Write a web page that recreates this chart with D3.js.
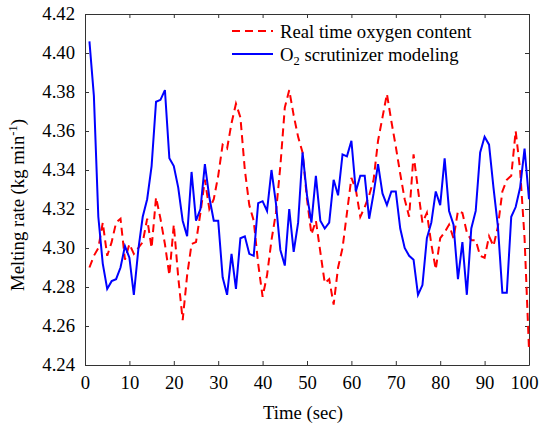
<!DOCTYPE html>
<html>
<head>
  <script src="https://d3js.org/d3.v7.min.js"></script>
  <style>
    body { margin: 0; background: #fff; }
    text { font-family: "Liberation Serif", "Times New Roman", serif; fill: #000; }
  </style>
</head>
<body>
<script>
  // time axis, one sample per second
  var time = d3.range(1, 101);

  // Real time oxygen content (dashed red)
  var realOxygen = [
    4.290, 4.296, 4.300, 4.313, 4.296, 4.303, 4.313, 4.315, 4.294, 4.302,
    4.297, 4.300, 4.303, 4.315, 4.300, 4.326, 4.315, 4.302, 4.286, 4.312,
    4.285, 4.263, 4.286, 4.302, 4.303, 4.318, 4.335, 4.320, 4.325, 4.337,
    4.353, 4.351, 4.364, 4.374, 4.367, 4.340, 4.322, 4.314, 4.292, 4.275,
    4.286, 4.304, 4.318, 4.342, 4.372, 4.381, 4.368, 4.357, 4.349, 4.325,
    4.307, 4.314, 4.298, 4.282, 4.284, 4.271, 4.290, 4.300, 4.318, 4.336,
    4.330, 4.316, 4.321, 4.327, 4.335, 4.355, 4.367, 4.379, 4.365, 4.352,
    4.338, 4.325, 4.316, 4.348, 4.330, 4.313, 4.318, 4.302, 4.289, 4.305,
    4.308, 4.312, 4.305, 4.319, 4.318, 4.308, 4.304, 4.304, 4.296, 4.295,
    4.306, 4.301, 4.311, 4.329, 4.335, 4.337, 4.360, 4.340, 4.305, 4.248
  ];

  // O2 scrutinizer modeling (solid blue)
  var scrutinizer = [
    4.406, 4.378, 4.316, 4.292, 4.279, 4.283, 4.284, 4.290, 4.301, 4.295,
    4.276, 4.299, 4.316, 4.325, 4.342, 4.375, 4.376, 4.381, 4.346, 4.342,
    4.331, 4.314, 4.306, 4.339, 4.314, 4.320, 4.343, 4.326, 4.314, 4.314,
    4.285, 4.276, 4.297, 4.279, 4.305, 4.306, 4.297, 4.296, 4.323, 4.324,
    4.319, 4.340, 4.323, 4.299, 4.291, 4.320, 4.298, 4.313, 4.349, 4.327,
    4.313, 4.337, 4.314, 4.310, 4.313, 4.335, 4.327, 4.348, 4.347, 4.355,
    4.329, 4.337, 4.337, 4.315, 4.328, 4.343, 4.328, 4.322, 4.329, 4.329,
    4.310, 4.300, 4.296, 4.294, 4.276, 4.281, 4.305, 4.313, 4.329, 4.322,
    4.346, 4.319, 4.312, 4.284, 4.303, 4.276, 4.310, 4.319, 4.349, 4.357,
    4.353, 4.331, 4.311, 4.277, 4.277, 4.316, 4.321, 4.331, 4.351, 4.325
  ];

  var xTicks = d3.range(0, 101, 10);
  var yTicks = [4.24, 4.26, 4.28, 4.30, 4.32, 4.34, 4.36, 4.38, 4.40, 4.42];

  var width = 540, height = 425;
  var plotL = 85, plotR = 529, plotT = 14, plotB = 365;

  var svg = d3.select("body").append("svg")
      .attr("width", width)
      .attr("height", height);

  var x = d3.scaleLinear().domain([0, 100]).range([plotL, plotR]);
  var y = d3.scaleLinear().domain([4.24, 4.42]).range([plotB, plotT]);

  // axes: ticks point inward on all four sides
  var fs = "18.7px";
  var axisColor = "#333";

  var gx = svg.append("g")
      .attr("transform", "translate(0," + plotB + ")")
      .call(d3.axisBottom(x).tickValues(xTicks).tickSizeInner(-4).tickSizeOuter(0).tickPadding(11));
  var gy = svg.append("g")
      .attr("transform", "translate(" + plotL + ",0)")
      .call(d3.axisLeft(y).tickValues(yTicks).tickFormat(d3.format(".2f")).tickSizeInner(-4).tickSizeOuter(0).tickPadding(10));
  var gt = svg.append("g")
      .attr("transform", "translate(0," + plotT + ")")
      .call(d3.axisTop(x).tickValues(xTicks).tickSizeInner(-4).tickSizeOuter(0).tickFormat(""));
  var gr = svg.append("g")
      .attr("transform", "translate(" + plotR + ",0)")
      .call(d3.axisRight(y).tickValues(yTicks).tickSizeInner(-4).tickSizeOuter(0).tickFormat(""));

  [gx, gy, gt, gr].forEach(function (g) {
    g.selectAll("path").attr("stroke", axisColor);
    g.selectAll("line").attr("stroke", axisColor);
    g.selectAll("text")
      .style("font-family", '"Liberation Serif", "Times New Roman", serif')
      .style("font-size", fs)
      .attr("fill", "#000");
  });

  // last x label sits a bit left so it stays inside the picture
  gx.selectAll(".tick text")
    .filter(function (d) { return d === 100; })
    .attr("dx", -5);

  // series lines
  var line = function (vals) {
    return d3.line()
      .x(function (d, i) { return x(time[i]); })
      .y(function (d) { return y(d); })(vals);
  };

  svg.append("path")
      .attr("d", line(realOxygen))
      .attr("fill", "none")
      .attr("stroke", "#ff0000")
      .attr("stroke-width", 2)
      .attr("stroke-dasharray", "8,5");

  svg.append("path")
      .attr("d", line(scrutinizer))
      .attr("fill", "none")
      .attr("stroke", "#0000ff")
      .attr("stroke-width", 2);

  // legend
  svg.append("line")
      .attr("x1", 232).attr("x2", 273).attr("y1", 31).attr("y2", 31)
      .attr("stroke", "#ff0000").attr("stroke-width", 2).attr("stroke-dasharray", "8,5");
  svg.append("line")
      .attr("x1", 232).attr("x2", 273).attr("y1", 54).attr("y2", 54)
      .attr("stroke", "#0000ff").attr("stroke-width", 2);

  svg.append("text")
      .attr("x", 280).attr("y", 38)
      .style("font-size", fs)
      .text("Real time oxygen content");

  var lg2 = svg.append("text")
      .attr("x", 280).attr("y", 61)
      .style("font-size", fs);
  lg2.append("tspan").text("O");
  lg2.append("tspan").attr("dy", 4).style("font-size", "12.5px").text("2");
  lg2.append("tspan").attr("dy", -4).text(" scrutinizer modeling");

  // axis titles
  svg.append("text")
      .attr("x", 303).attr("y", 419)
      .attr("text-anchor", "middle")
      .style("font-size", fs)
      .text("Time (sec)");

  var yt = svg.append("text")
      .attr("transform", "translate(24,205) rotate(-90)")
      .attr("text-anchor", "middle")
      .style("font-size", fs);
  yt.append("tspan").text("Melting rate (kg min");
  yt.append("tspan").attr("dy", -7).style("font-size", "12.5px").text("-1");
  yt.append("tspan").attr("dy", 7).text(")");
</script>
</body>
</html>
